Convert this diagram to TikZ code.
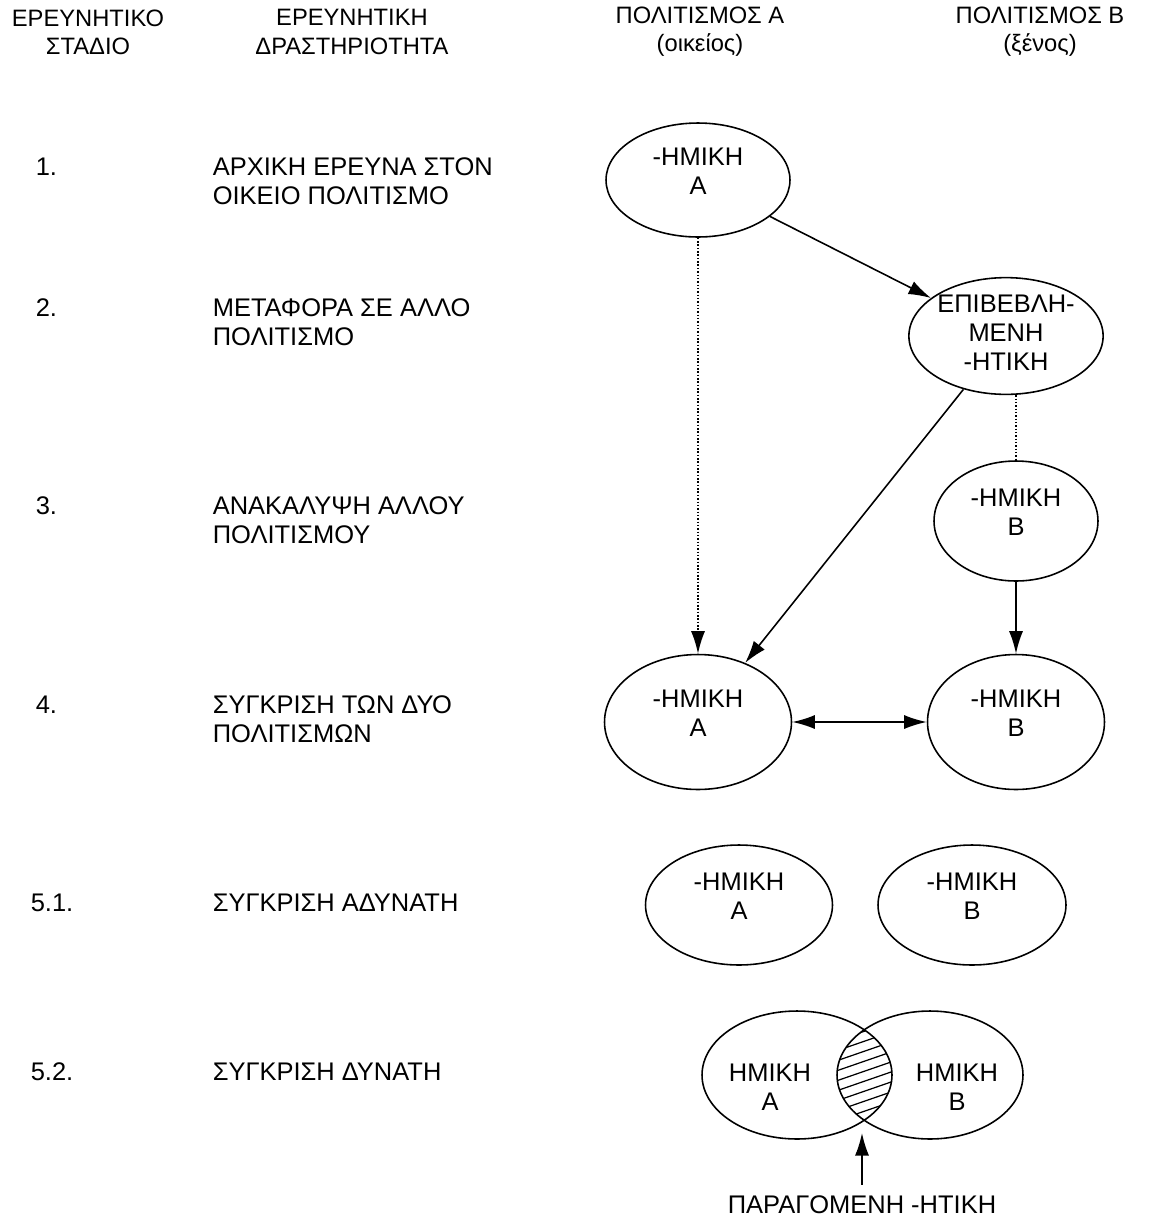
\documentclass[tikz,border=0pt]{standalone}
\usepackage{fontspec}
\setmainfont{Liberation Sans}
\usetikzlibrary{arrows.meta,shapes.geometric,positioning}

\begin{document}
\begin{tikzpicture}[x=0.02cm,y=-0.02cm,>={Latex[length=4.5mm,width=2.8mm]},line width=0.9pt,font=\fontsize{14.5}{16.5}\selectfont]
	\tikzstyle{head}=[align=center,font=\fontsize{13.5}{16}\selectfont]
	\tikzstyle{stage}=[anchor=west,inner sep=0pt]
	\tikzstyle{task}=[anchor=west,align=left,inner sep=0pt]
	\tikzstyle{emic}=[draw,ellipse,align=center,inner sep=0pt,text depth=10pt]

	\useasboundingbox (0,0) rectangle (1163,1218);

	% column heads
	\node[head] (hstage) at (88,32) {ΕΡΕΥΝΗΤΙΚΟ\\ΣΤΑΔΙΟ};
	\node[head] (htask) at (352,32) {ΕΡΕΥΝΗΤΙΚΗ\\ΔΡΑΣΤΗΡΙΟΤΗΤΑ};
	\node[head] (hcultA) at (700,32) {ΠΟΛΙΤΙΣΜΟΣ Α\\(οικείος)};
	\node[head] (hcultB) at (1040,32) {ΠΟΛΙΤΙΣΜΟΣ Β\\(ξένος)};

	% stages
	\node[stage] (s1) at (35,167) {1.};
	\node[stage] (s2) at (35,308) {2.};
	\node[stage] (s3) at (35,506) {3.};
	\node[stage] (s4) at (35,705) {4.};
	\node[stage] (s51) at (30,903) {5.1.};
	\node[stage] (s52) at (30,1072) {5.2.};

	\node[task] (t1) at (212,181) {ΑΡΧΙΚΗ ΕΡΕΥΝΑ ΣΤΟΝ\\ΟΙΚΕΙΟ ΠΟΛΙΤΙΣΜΟ};
	\node[task] (t2) at (212,322) {ΜΕΤΑΦΟΡΑ ΣΕ ΑΛΛΟ\\ΠΟΛΙΤΙΣΜΟ};
	\node[task] (t3) at (212,520) {ΑΝΑΚΑΛΥΨΗ ΑΛΛΟΥ\\ΠΟΛΙΤΙΣΜΟΥ};
	\node[task] (t4) at (212,719) {ΣΥΓΚΡΙΣΗ ΤΩΝ ΔΥΟ\\ΠΟΛΙΤΙΣΜΩΝ};
	\node[task] (t51) at (212,903) {ΣΥΓΚΡΙΣΗ ΑΔΥΝΑΤΗ};
	\node[task] (t52) at (212,1072) {ΣΥΓΚΡΙΣΗ ΔΥΝΑΤΗ};

	% emic / etic ellipses
	\node[emic,minimum width=3.68cm,minimum height=2.28cm] (hmA1) at (698,180) {-ΗΜΙΚΗ\\Α};
	\node[emic,minimum width=3.28cm,minimum height=2.16cm,text depth=4pt] (epibl) at (1006,336) {ΕΠΙΒΕΒΛΗ-\\ΜΕΝΗ\\-ΗΤΙΚΗ};
	\node[emic,minimum width=3.28cm,minimum height=2.4cm] (hmB3) at (1016,521) {-ΗΜΙΚΗ\\Β};
	\node[emic,minimum width=3.74cm,minimum height=2.7cm] (hmA4) at (698,722) {-ΗΜΙΚΗ\\Α};
	\node[emic,minimum width=3.54cm,minimum height=2.7cm] (hmB4) at (1016,722) {-ΗΜΙΚΗ\\Β};
	\node[emic,minimum width=3.74cm,minimum height=2.4cm] (hmA51) at (739,905) {-ΗΜΙΚΗ\\Α};
	\node[emic,minimum width=3.76cm,minimum height=2.4cm] (hmB51) at (972,905) {-ΗΜΙΚΗ\\Β};

	% overlap of stage 5.2
	\node[emic,minimum width=3.8cm,minimum height=2.56cm] (venA) at (797,1075) {};
	\node[emic,minimum width=3.72cm,minimum height=2.56cm] (venB) at (930,1075) {};
	\node[align=center] (txA) at (770,1087) {ΗΜΙΚΗ\\Α};
	\node[align=center] (txB) at (957,1087) {ΗΜΙΚΗ\\Β};
	\begin{scope}
		\clip (venA.center) ellipse [x radius=1.9cm,y radius=1.28cm];
		\clip (venB.center) ellipse [x radius=1.86cm,y radius=1.28cm];
		\foreach \y in {990,1000,...,1180}
			\draw[line width=0.7pt] (810,\y) -- (920,\y-38);
	\end{scope}
	\node[inner sep=0pt] (parag) at (862,1205) {ΠΑΡΑΓΟΜΕΝΗ -ΗΤΙΚΗ};
	\coordinate (meet) at (862,1133);

	% connectors
	\draw[->] (hmA1) -- (epibl);
	\draw[->] (epibl) -- (hmA4);
	\draw[->,densely dotted] (hmA1.south) -- (hmA4.north);
	\draw[densely dotted] (hmB3.north |- epibl.south) -- (hmB3.north);
	\draw[->] (hmB3) -- (hmB4);
	\draw[<->] (hmA4) -- (hmB4);
	\draw[->,shorten <=6pt] (parag) -- (meet);
\end{tikzpicture}
\end{document}
